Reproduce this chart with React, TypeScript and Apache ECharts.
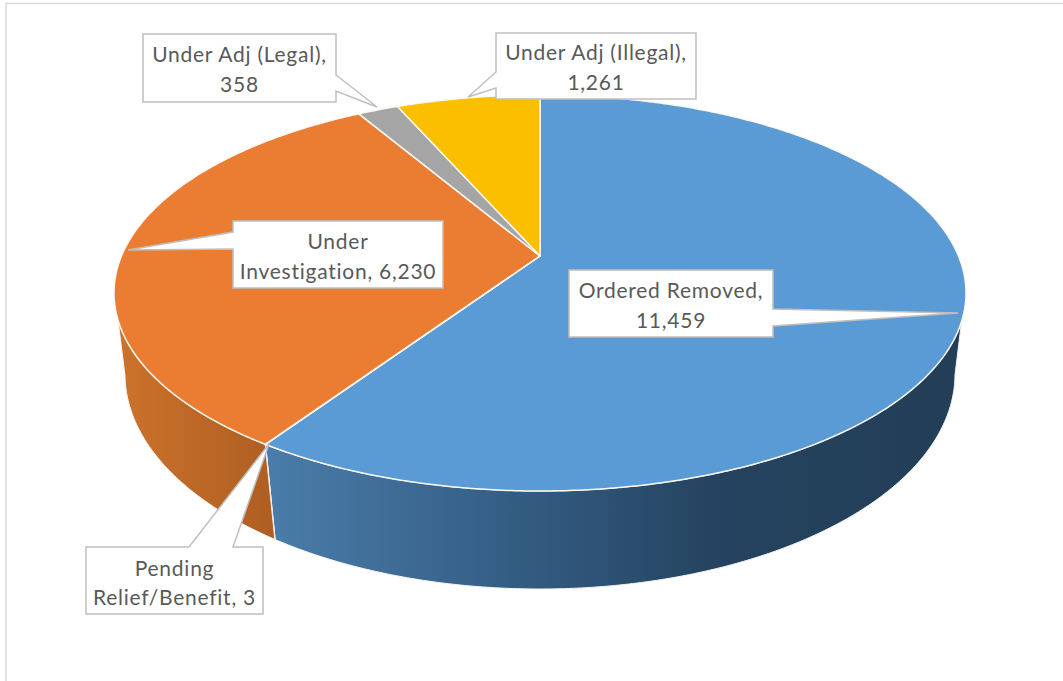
import React, { useEffect, useRef } from "react";
import * as echarts from "echarts";

const categories = ["Ordered Removed", "Pending Relief/Benefit", "Under Investigation", "Under Adj (Legal)", "Under Adj (Illegal)"];
const values = [11459, 3, 6230, 358, 1261];
const topColors = ["#5B9BD5", "#C55A11", "#EB7D32", "#A5A5A5", "#FCBF00"];
const wallStops: Array<Array<[number, string]>> = [
  [[0, "#4A7DAA"], [0.33, "#355F86"], [0.65, "#254360"], [1, "#233E56"]],
  [[0, "#B8621F"], [1, "#B8621F"]],
  [[0, "#CC722B"], [1, "#AE5E22"]],
  [[0, "#7A7A7A"], [1, "#7A7A7A"]],
  [[0, "#B88C00"], [1, "#B88C00"]],
];

const W = 1063;
const H = 681;
const topFace = { cx: 540, cy: 293, a: 426, b: 198, k: -0.187 };
const baseFace = { cx: 540, cy: 374, a: 415, b: 215, k: -0.175 };
const topSilhouetteV = 0.136;

const callouts = [
  { index: 0, breakAt: 16, box: [569, 270, 773, 337], pointer: [[773, 309], [958, 313], [773, 326]], lineY: [289, 319] },
  { index: 1, breakAt: 7, box: [86, 547, 263, 614], pointer: [[189, 547], [269, 444], [233, 547]], lineY: [567, 596] },
  { index: 2, breakAt: 5, box: [233, 221, 443, 288], pointer: [[233, 232], [128, 250], [233, 249]], lineY: [240, 270] },
  { index: 3, breakAt: 18, box: [143, 34, 336, 102], pointer: [[336, 75], [377, 107], [336, 91]], lineY: [53, 83] },
  { index: 4, breakAt: 20, box: [496, 33, 696, 99], pointer: [[496, 72], [468, 97], [496, 88]], lineY: [51, 81] },
];

const total = values.reduce((s, v) => s + v, 0);
const starts: number[] = [];
values.reduce((acc, v, i) => {
  starts[i] = acc;
  return acc + v;
}, 0);

type Face = typeof topFace;
function proj(theta: number, f: Face, r = 1) {
  const u = Math.sin(theta) * r;
  const v = -Math.cos(theta) * r;
  const d = 1 + v * f.k;
  const vp = (v + f.k) / d;
  const up = (u * Math.sqrt(1 - f.k * f.k)) / d;
  return { x: f.cx + f.a * up, y: f.cy + f.b * vp, vp };
}

function sampleAngles(a0: number, a1: number) {
  const n = Math.max(2, Math.ceil(((a1 - a0) / (2 * Math.PI)) * 720));
  const out: number[] = [];
  for (let i = 0; i <= n; i++) out.push(a0 + ((a1 - a0) * i) / n);
  return out;
}

function renderSlice(params: any, api: any) {
  const i = params.dataIndex;
  const value = api.value(0);
  const a0 = (starts[i] / total) * 2 * Math.PI;
  const a1 = a0 + (value / total) * 2 * Math.PI;
  const angles = sampleAngles(a0, a1);
  const children: any[] = [];

  const topVisible = angles.map((t) => proj(t, topFace)).filter((p) => p.vp >= topSilhouetteV);
  const baseVisible = angles.map((t) => proj(t, baseFace)).filter((p) => p.vp >= 0);
  if (topVisible.length > 1 && baseVisible.length > 1) {
    const pts = [
      ...topVisible.map((p) => [p.x, p.y]),
      ...baseVisible.slice().reverse().map((p) => [p.x, p.y]),
    ];
    children.push({
      type: "polygon",
      z2: 1,
      shape: { points: pts },
      style: {
        fill: new echarts.graphic.LinearGradient(
          0, 0, 1, 0,
          wallStops[i].map(([offset, color]) => ({ offset, color }))
        ),
        stroke: "#F4F4F4",
        lineWidth: 1,
      },
    });
  }

  const apex = proj(0, topFace, 0);
  const top = angles.map((t) => proj(t, topFace));
  children.push({
    type: "polygon",
    z2: 2,
    shape: { points: [[apex.x, apex.y], ...top.map((p) => [p.x, p.y])] },
    style: { fill: topColors[i], stroke: "#FBF8F4", lineWidth: 1.5, lineJoin: "round" },
  });
  return { type: "group", children };
}

function buildCallouts() {
  const out: any[] = [];
  callouts.forEach((c) => {
    const [x0, y0, x1, y1] = c.box;
    const [p0, p1, p2] = c.pointer;
    let points: number[][];
    if (p0[1] === y0 && p2[1] === y0) {
      points = [[x0, y0], p0, p1, p2, [x1, y0], [x1, y1], [x0, y1]];
    } else if (p0[0] === x1) {
      points = [[x0, y0], [x1, y0], p0, p1, p2, [x1, y1], [x0, y1]];
    } else {
      points = [[x0, y0], [x1, y0], [x1, y1], [x0, y1], p2, p1, p0];
    }
    out.push({
      type: "polygon",
      z: 10,
      shape: { points },
      style: { fill: "#FFFFFF", stroke: "#BFBFBF", lineWidth: 1.5 },
    });
    const full = `${categories[c.index]}, ${values[c.index].toLocaleString("en-US")}`;
    const lines = [full.slice(0, c.breakAt).trim(), full.slice(c.breakAt).trim()];
    lines.forEach((text, li) => {
      out.push({
        type: "text",
        z: 11,
        style: {
          text,
          x: (x0 + x1) / 2,
          y: c.lineY[li],
          fill: "#595959",
          font: '21px Lato, "Open Sans", sans-serif',
          align: "center",
          verticalAlign: "middle",
          textAlign: "center",
          textVerticalAlign: "middle",
        },
      });
    });
  });
  return out;
}

export default function App() {
  const ref = useRef<HTMLDivElement>(null);
  useEffect(() => {
    if (!ref.current) return;
    const chart = echarts.init(ref.current, undefined, { renderer: "svg" });
    chart.setOption({
      animation: false,
      backgroundColor: "#FFFFFF",
      series: [
        {
          type: "custom",
          coordinateSystem: "none",
          silent: true,
          clip: false,
          data: values.map((v, i) => ({ name: categories[i], value: [v] })),
          encode: { value: 0 },
          renderItem: renderSlice,
        },
      ],
      graphic: [
        {
          type: "polyline",
          z: 1,
          shape: { points: [[6, H], [6, 3.5], [W, 3.5]] },
          style: { fill: "none", stroke: "#D9D9D9", lineWidth: 1.5 },
        },
        ...buildCallouts(),
      ],
    });
    return () => chart.dispose();
  }, []);
  return <div ref={ref} style={{ position: "fixed", left: 0, top: 0, width: W, height: H, letterSpacing: "0.75px" }} />;
}
